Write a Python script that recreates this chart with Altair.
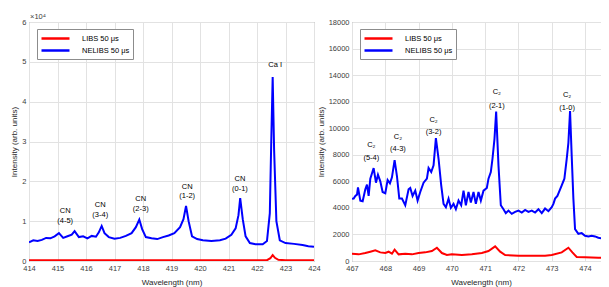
import altair as alt
import pandas as pd

FONT = "Liberation Sans"
SERIES = ["LIBS 50 μs", "NELIBS 50 μs"]
COLORS = ["#ff0000", "#0000ff"]

# ---------------- left panel (intensity in units of 1e4) ----------------
left_ne_x = [414.0, 414.15, 414.3, 414.45, 414.6, 414.75, 414.9, 415.05, 415.2, 415.35,
             415.5, 415.6, 415.75, 415.9, 416.05, 416.2, 416.35, 416.45, 416.55, 416.65,
             416.8, 417.0, 417.2, 417.4, 417.6, 417.75, 417.87, 417.97, 418.1, 418.3,
             418.5, 418.7, 418.9, 419.1, 419.3, 419.42, 419.51, 419.6, 419.72, 419.9,
             420.1, 420.4, 420.7, 420.9, 421.1, 421.25, 421.35, 421.41, 421.5, 421.6,
             421.75, 421.95, 422.2, 422.35, 422.45, 422.5, 422.55, 422.6, 422.68, 422.8,
             423.0, 423.3, 423.6, 423.8, 424.0]
left_ne_y = [0.47, 0.52, 0.50, 0.53, 0.58, 0.57, 0.62, 0.70, 0.58, 0.62,
             0.66, 0.75, 0.60, 0.62, 0.57, 0.63, 0.61, 0.72, 0.88, 0.70,
             0.60, 0.56, 0.58, 0.63, 0.70, 0.85, 1.04, 0.80, 0.60, 0.57,
             0.55, 0.60, 0.64, 0.70, 0.85, 1.05, 1.38, 1.00, 0.62, 0.55,
             0.52, 0.50, 0.52, 0.56, 0.66, 0.82, 1.15, 1.58, 1.05, 0.62,
             0.45, 0.42, 0.42, 0.50, 1.2, 3.0, 4.62, 2.8, 1.0, 0.52,
             0.45, 0.43, 0.40, 0.37, 0.36]
left_libs_x = [414.0, 415.0, 416.0, 417.0, 418.0, 419.0, 420.0, 421.0, 422.0, 422.35,
               422.47, 422.55, 422.63, 422.75, 423.0, 424.0]
left_libs_y = [0.02, 0.02, 0.02, 0.02, 0.02, 0.02, 0.02, 0.02, 0.02, 0.02,
               0.07, 0.15, 0.08, 0.03, 0.02, 0.02]

left_ann_x = [415.27, 416.5, 417.92, 419.55, 421.4, 422.64]
left_ann_top_y = [1.26, 1.41, 1.56, 1.87, 2.06, 4.92]
left_ann_top = ["CN", "CN", "CN", "CN", "CN", "Ca I"]
left_ann_bot_y = [1.00, 1.15, 1.31, 1.62, 1.81]
left_ann_bot = ["(4-5)", "(3-4)", "(2-3)", "(1-2)", "(0-1)"]

# ---------------- right panel ----------------
right_ne_x = [467.0, 467.05, 467.1, 467.15, 467.18, 467.25, 467.32, 467.4, 467.45, 467.5,
              467.55, 467.65, 467.72, 467.78, 467.85, 467.92, 468.0, 468.07, 468.14, 468.2,
              468.28, 468.35, 468.42, 468.5, 468.6, 468.7, 468.75, 468.82, 468.9, 468.97,
              469.05, 469.15, 469.25, 469.3, 469.38, 469.45, 469.52, 469.6, 469.68, 469.75,
              469.82, 469.9, 469.97, 470.05, 470.12, 470.2, 470.28, 470.35, 470.42, 470.5,
              470.57, 470.65, 470.72, 470.8, 470.87, 470.95, 471.05, 471.1, 471.17, 471.22,
              471.28, 471.33, 471.4, 471.47, 471.55, 471.62, 471.7, 471.8, 471.9, 472.0,
              472.1, 472.2, 472.3, 472.4, 472.5, 472.6, 472.7, 472.8, 472.9, 473.0,
              473.05, 473.1, 473.17, 473.22, 473.3, 473.38, 473.45, 473.5, 473.55, 473.6,
              473.65, 473.7, 473.8, 473.9, 474.0, 474.1, 474.2, 474.3, 474.4, 474.5,
              474.6, 474.75]
right_ne_y = [4680, 4700, 4900, 5000, 5550, 4550, 4500, 5400, 5750, 4900,
              6200, 7000, 5900, 6500, 6000, 5200, 5100, 6100, 5850, 6300,
              7600, 6400, 4700, 4700, 4200, 5400, 5500, 4900, 5300, 4550,
              5200, 5900, 6200, 7000, 6700, 7200, 9250, 7700, 5700, 4300,
              4050, 4700, 4000, 4300, 3900, 4550, 4200, 5300, 4200, 5200,
              4400, 5200, 4300, 5200, 4550, 5300, 5500, 6200, 6700, 7700,
              9200, 11250, 7200, 4200, 3900, 3600, 3800, 3550, 3700, 3800,
              3650, 3850, 3700, 3800, 3650, 3900, 3600, 3950, 3750, 4050,
              4300, 4700, 4900, 5200, 5700, 6200, 7700, 8900, 11300, 7900,
              4700, 2400, 2050, 2100, 1900, 1850, 1900, 1850, 1750, 1700,
              1600, 1550]
right_libs_x = [467.0, 467.2, 467.4, 467.55, 467.7, 467.85, 468.0, 468.1, 468.2, 468.28,
                468.4, 468.6, 468.8, 469.0, 469.2, 469.4, 469.55, 469.7, 469.85, 470.0,
                470.3, 470.6, 470.9, 471.1, 471.3, 471.45, 471.6, 472.0, 472.5, 472.8,
                473.0, 473.3, 473.5, 473.62, 473.75, 474.0, 474.4, 474.75]
right_libs_y = [550, 500, 600, 700, 800, 650, 600, 700, 550, 850,
                500, 550, 500, 600, 650, 750, 1000, 600, 450, 500,
                450, 500, 600, 750, 1100, 700, 450, 400, 400, 400,
                450, 650, 1000, 650, 300, 280, 250, 230]

right_ann_x = [467.58, 468.38, 469.45, 471.35, 473.46]
right_ann_top_y = [8730, 9370, 10600, 12700, 12500]
right_ann_top = ["C₂", "C₂", "C₂", "C₂", "C₂"]
right_ann_bot_y = [7730, 8430, 9740, 11700, 11550]
right_ann_bot = ["(5-4)", "(4-3)", "(3-2)", "(2-1)", "(1-0)"]

left_x_ticks = list(range(414, 425))
left_y_ticks = list(range(0, 7))
right_x_ticks = list(range(467, 476))
right_y_ticks = list(range(0, 18001, 2000))

GRID = "#e2e2e2"
LABEL_C = "#404040"


def spectra_df(x1, y1, x2, y2):
    return pd.DataFrame({
        "wl": list(x1) + list(x2),
        "I": list(y1) + list(y2),
        "series": [SERIES[0]] * len(x1) + [SERIES[1]] * len(x2),
    })


def panel(df, xdom, xticks, ydom, yticks, ann_x, ann_ty, ann_t, ann_bx, ann_by, ann_b, w, h, extra=None):
    xs = alt.Scale(domain=xdom, nice=False, zero=False)
    ys = alt.Scale(domain=ydom, nice=False)
    xaxis = alt.Axis(values=xticks, tickCount=len(xticks), format="d",
                     title="Wavelength (nm)", grid=True,
                     labelFontSize=7.5, titleFontSize=8, labelPadding=3, titlePadding=7,
                     ticks=False, domain=False, labelFlush=False, labelOverlap=False,
                     labelSeparation=0)
    yaxis = alt.Axis(values=yticks, tickCount=len(yticks), format="d",
                     title="Intensity (arb. units)", grid=True,
                     labelFontSize=7.5, titleFontSize=8, labelPadding=3, titlePadding=3,
                     ticks=False, domain=False, labelFlush=False, labelOverlap=False,
                     labelSeparation=0)
    lines = alt.Chart(df).mark_line(strokeWidth=2, clip=True).encode(
        x=alt.X("wl:Q", scale=xs, axis=xaxis),
        y=alt.Y("I:Q", scale=ys, axis=yaxis),
        color=alt.Color("series:N", scale=alt.Scale(domain=SERIES, range=COLORS),
                        legend=alt.Legend(orient="none", legendX=8, legendY=7, title=None,
                                          symbolType="M-2.8,0H2.8", symbolSize=100,
                                          symbolOffset=9, labelOffset=20,
                                          symbolStrokeWidth=2.5, labelFontSize=7.5,
                                          labelFont=FONT, labelColor="black",
                                          fillColor="white", strokeColor="#8c8c8c",
                                          padding=3, rowPadding=0)),
        detail="series:N",
    )
    top = alt.Chart(pd.DataFrame({"x": ann_x, "y": ann_ty, "t": ann_t})).mark_text(
        fontSize=7.5, font=FONT, color="black", baseline="middle").encode(
        x=alt.X("x:Q", scale=xs), y=alt.Y("y:Q", scale=ys), text="t:N")
    bot = alt.Chart(pd.DataFrame({"x": ann_bx, "y": ann_by, "t": ann_b})).mark_text(
        fontSize=7.5, font=FONT, color="black", baseline="middle").encode(
        x=alt.X("x:Q", scale=xs), y=alt.Y("y:Q", scale=ys), text="t:N")
    layers = [lines, top, bot]
    if extra is not None:
        layers.append(extra)
    return alt.layer(*layers).properties(width=w, height=h)


exp_label = alt.Chart(pd.DataFrame({"t": ["×10⁴"]})).mark_text(
    align="left", baseline="alphabetic", fontSize=7.5, font=FONT, color=LABEL_C).encode(
    x=alt.value(1), y=alt.value(-3), text="t:N")

left = panel(spectra_df(left_libs_x, left_libs_y, left_ne_x, left_ne_y),
             [414, 424], left_x_ticks, [0, 6], left_y_ticks,
             left_ann_x, left_ann_top_y, left_ann_top,
             left_ann_x[:5], left_ann_bot_y, left_ann_bot, 285, 239, extra=exp_label)

right = panel(spectra_df(right_libs_x, right_libs_y, right_ne_x, right_ne_y),
              [467, 474.75], right_x_ticks, [0, 18000], right_y_ticks,
              right_ann_x, right_ann_top_y, right_ann_top,
              right_ann_x, right_ann_bot_y, right_ann_bot, 258, 239)

chart = alt.hconcat(left, right, spacing=38, bounds="flush").resolve_scale(
    color="independent").resolve_legend(color="independent").properties(
    padding={"left": 2, "top": 4, "right": -10, "bottom": 0}
).configure_axis(
    labelFont=FONT, titleFont=FONT, labelColor=LABEL_C, titleColor="#262626",
    titleFontWeight="normal", gridColor=GRID, gridWidth=1, labelOverlap=False
).configure_view(stroke="#858585", strokeWidth=1)

chart.save("out.html", embed_options={"renderer": "svg", "actions": False})
